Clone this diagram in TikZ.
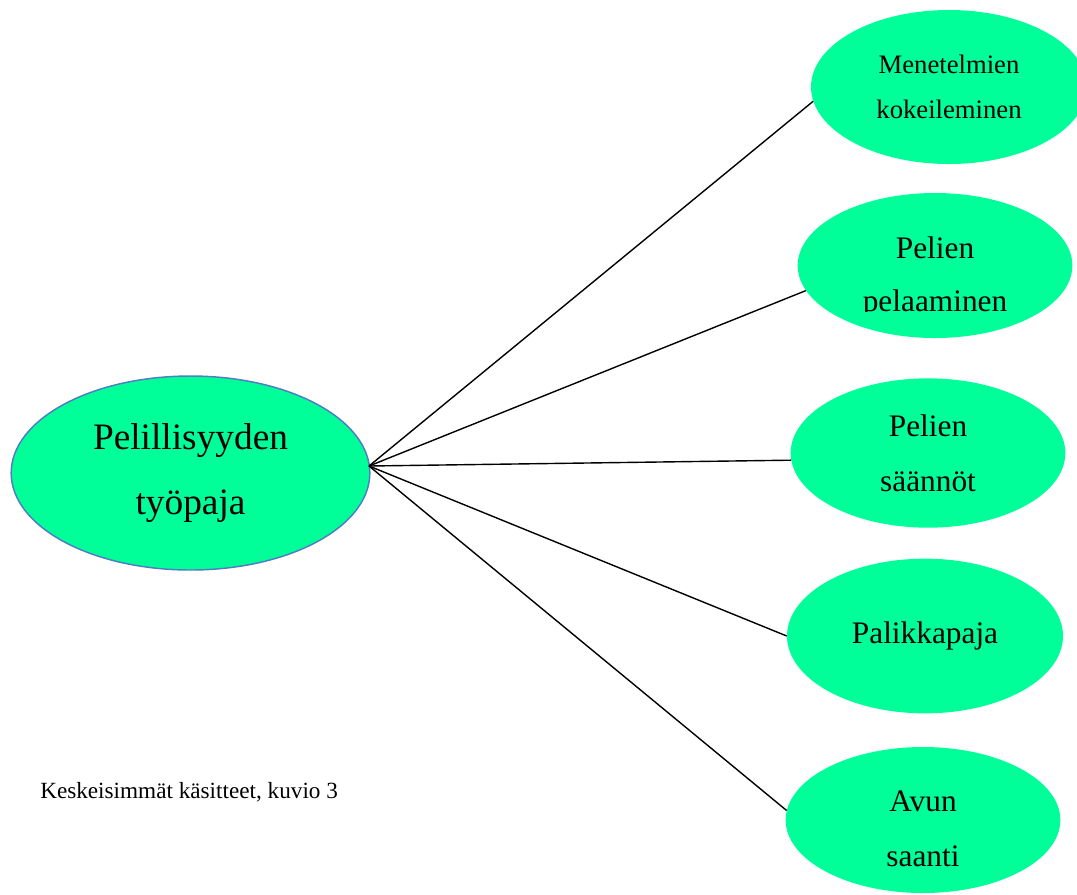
\documentclass[tikz,border=0pt]{standalone}
\usepackage{fontspec}
\setmainfont{Liberation Serif}
\usetikzlibrary{shapes.geometric}
\definecolor{mint}{RGB}{0,255,153}
\definecolor{reuna}{RGB}{79,125,196}
\tikzset{
  kasite/.style={ellipse, fill=mint, inner sep=0pt, align=center,
    minimum width=206pt, minimum height=112pt,
    font=\fontsize{23.5}{41.25}\selectfont},
  teksti/.style={align=center, inner sep=0pt, font=\fontsize{23.5}{41.25}\selectfont},
  yhteys/.style={draw=black, line width=1.05pt}
}
\begin{document}
\begin{tikzpicture}[x=0.75pt,y=-0.75pt]
              \useasboundingbox (0,0) rectangle (1077,894);
              \node[ellipse, fill=mint, draw=reuna, line width=1.1pt, inner sep=0pt,
                    minimum width=269pt, minimum height=145.5pt, align=center,
                    font=\fontsize{28}{48.75}\selectfont]
                    (paja) at (190.5,473) {Pelillisyyden\\työpaja};
              \node[kasite, minimum width=207pt, minimum height=115.5pt,
                    font=\fontsize{20}{33.75}\selectfont]
                    (menetelmat) at (949,87) {Menetelmien\\kokeileminen};
              \node[kasite, minimum height=108.75pt] (pelaaminen) at (935,265.5) {};
              \begin{scope}
                  \clip (780,180) rectangle (1077,311);
                  \node[teksti, font=\fontsize{23.5}{39.75}\selectfont]
                        (pelaaminenteksti) at (935,277) {Pelien\\pelaaminen};
              \end{scope}
              \node[kasite] (saannot) at (928,453) {Pelien\\säännöt};
              \node[kasite, minimum width=207pt, minimum height=116pt] (palikka) at (925,636) {Palikkapaja};
              \node[kasite, minimum height=109.5pt] (apu) at (923,820) {};
              \node[teksti] (aputeksti) at (923,829) {Avun\\saanti};
              \coordinate (hub) at (369,466);
              \foreach \n/\a in {menetelmat/186,pelaaminen/191,saannot/183,palikka/180,apu/176} {
                  \draw[yhteys] (hub) -- (\n.\a);
              }
              \node[anchor=base west, inner sep=0pt, font=\fontsize{17.4}{20}\selectfont]
                    (kuvio) at (40,798) {Keskeisimmät käsitteet, kuvio 3};
        \end{tikzpicture}
\end{document}
